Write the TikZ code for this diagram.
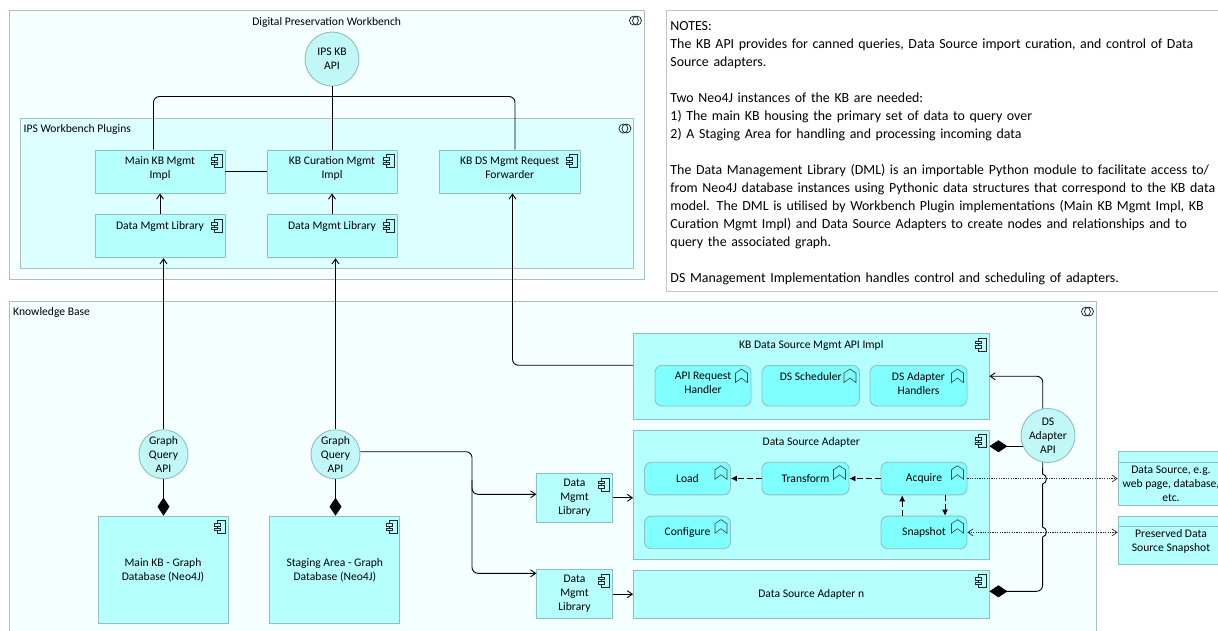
\documentclass[tikz,border=0pt]{standalone}
\usepackage{fontspec}
\setmainfont{Carlito}
\usetikzlibrary{arrows.meta}

\definecolor{groupfill}{HTML}{F5FFFF}
\definecolor{pluginfill}{HTML}{DEFFFF}
\definecolor{compfill}{HTML}{B5FFFF}
\definecolor{funcfill}{HTML}{80FFFF}
\definecolor{apifill}{HTML}{C2F7F7}
\definecolor{edgeline}{HTML}{8FBFBF}
\definecolor{groupline}{HTML}{AEBDBD}
\definecolor{noteline}{HTML}{C4C4C4}

% small marks in the top right corner of a box
\newcommand{\compicon}[1]{
\begin{scope}[shift={(#1.north east)},draw=black!85,line width=0.6pt]
\draw (-11,5) rectangle (-3,18);
\draw[fill=compfill] (-14,8) rectangle (-8,10.5);
\draw[fill=compfill] (-14,12.5) rectangle (-8,15);
\end{scope}}
\newcommand{\funcicon}[1]{
\begin{scope}[shift={(#1.north east)},draw=black!75,line width=0.6pt]
\draw (-16,8) -- (-10,4) -- (-4,8) -- (-4,17.5) -- (-10,13) -- (-16,17.5) -- cycle;
\end{scope}}
\newcommand{\groupicon}[1]{
\begin{scope}[shift={(#1.north east)},draw=black!90,line width=0.7pt]
\draw (-10.5,11) circle[radius=4.5pt];
\draw (-7.5,11) circle[radius=4.5pt];
\end{scope}}

\begin{document}
\begin{tikzpicture}[x=1pt,y=-1pt,font=\fontsize{11.6}{14}\selectfont,>={Straight Barb[length=5pt,width=7pt]}]
\tikzstyle{group box}=[draw=groupline,fill=groupfill,line width=0.9pt,inner sep=0pt]
\tikzstyle{plugin box}=[group box,fill=pluginfill]
\tikzstyle{comp box}=[draw=edgeline,fill=compfill,line width=0.9pt,inner sep=0pt,align=center]
\tikzstyle{impl box}=[comp box,minimum width=130,minimum height=43]
\tikzstyle{lib box}=[comp box,minimum width=75.5,minimum height=49]
\tikzstyle{func box}=[comp box,fill=funcfill,rounded corners=7pt,minimum height=32.6]
\tikzstyle{api}=[circle,draw=edgeline,fill=apifill,line width=0.9pt,inner sep=0pt,align=center]
\tikzstyle{store box}=[comp box,minimum width=106]
\tikzstyle{toplabel}=[anchor=north,align=center,inner sep=7.2pt]
\tikzstyle{link}=[draw=black,line width=0.9pt]
\tikzstyle{assign}=[link,-{Diamond[length=18pt,width=12pt]}]
\tikzstyle{flow}=[link,dash pattern=on 6pt off 3pt,-{Latex[length=6pt,width=6pt]}]
\tikzstyle{access}=[draw=black!85,line width=0.7pt,dash pattern=on 1.2pt off 1.2pt]

\useasboundingbox (0,0) rectangle (1218,630);

% Draw the workbench groups
\node[group box,minimum width=634.7,minimum height=269,label={[toplabel]north:Digital Preservation Workbench}] (Wb) at (326.65,144.5) {};
\node[plugin box,minimum width=613,minimum height=150] (Plugins) at (327,193) {};
\node[anchor=west,inner sep=0pt] (PluginsT) at (23.5,129.5) {IPS Workbench Plugins};
\node[api,minimum size=54] (Api) at (332,59) {IPS KB\\API};

% Draw the plugin components
\node[impl box,label={[toplabel]north:{Main KB Mgmt\\Impl}}] (Main) at (160,171.5) {};
\node[impl box,label={[toplabel]north:{KB Curation Mgmt\\Impl}}] (Cur) at (332,171.5) {};
\node[impl box,minimum width=140.5,label={[toplabel]north:{KB DS Mgmt Request\\Forwarder}}] (Fwd) at (509.75,171.5) {};
\node[impl box,label={[toplabel]north:Data Mgmt Library}] (Lib1) at (160,236.25) {};
\node[impl box,label={[toplabel]north:Data Mgmt Library}] (Lib2) at (332,236.25) {};

% Draw the knowledge base group
\node[group box,minimum width=1086.5,minimum height=331] (KB) at (552.75,466.5) {};
\node[anchor=west,inner sep=0pt] (KBT) at (13,312.5) {Knowledge Base};

% Draw the data source management implementation
\node[comp box,minimum width=355.5,minimum height=85.5,label={[toplabel]north:KB Data Source Mgmt API Impl}] (Impl) at (811.25,376.25) {};
\node[func box,minimum width=96,minimum height=40.5,label={[toplabel]north:{API Request\\Handler}}] (Handler) at (703,385.75) {};
\node[func box,minimum width=97.5,minimum height=40.5,label={[toplabel]north:DS Scheduler}] (Sched) at (810.75,385.75) {};
\node[func box,minimum width=97,minimum height=40.5,label={[toplabel]north:{DS Adapter\\Handlers}}] (Handlers) at (918.5,385.75) {};

% Draw the adapters
\node[comp box,minimum width=355.5,minimum height=129,label={[toplabel]north:Data Source Adapter}] (Adapter) at (811.25,494.5) {};
\node[func box,minimum width=86] (Load) at (687.5,478.5) {Load};
\node[func box,minimum width=87] (Trans) at (805.5,478.5) {Transform};
\node[func box,minimum width=86] (Acq) at (924,478.5) {Acquire};
\node[func box,minimum width=86] (Conf) at (687.5,532.4) {Configure};
\node[func box,minimum width=86] (Snap) at (924,532.4) {Snapshot};
\node[comp box,minimum width=355.5,minimum height=48] (AdapterN) at (811.25,594) {Data Source Adapter n};
\node[lib box] (Dml1) at (574.5,497.8) {Data\\Mgmt\\Library};
\node[lib box] (Dml2) at (574.5,594.2) {Data\\Mgmt\\Library};
\node[api,minimum size=54] (DsApi) at (1048,435.5) {DS\\Adapter\\API};

% Draw the graph databases
\node[api,minimum size=49] (Gq1) at (163.5,454.3) {Graph\\Query\\API};
\node[api,minimum size=49] (Gq2) at (335.5,454.3) {Graph\\Query\\API};
\node[comp box,minimum width=130,minimum height=107.7] (Graph1) at (163,570) {Main KB - Graph\\Database (Neo4J)};
\node[comp box,minimum width=130,minimum height=107.7] (Graph2) at (334.8,570) {Staging Area - Graph\\Database (Neo4J)};

% Draw the external artifacts
\node[store box,minimum height=54,label={[yshift=-5.5pt,align=center]center:{Data Source, e.g.\\web page, database,\\etc.}}] (Src) at (1171,478) {};
\node[store box,minimum height=48,label={[yshift=-0.7pt,align=center]center:{Preserved Data\\Source Snapshot}}] (Keep) at (1171,540.3) {};
\draw[edgeline,line width=0.9pt] ([yshift=-11.7pt]Src.north west) -- ([yshift=-11.7pt]Src.north east);
\draw[edgeline,line width=0.9pt] ([yshift=-10.4pt]Keep.north west) -- ([yshift=-10.4pt]Keep.north east);

% Draw the notes
\node[draw=noteline,line width=0.9pt,fill=white,anchor=north west,inner xsep=4.5pt,inner ysep=7pt,text width=548pt,align=left,font=\fontsize{13.9}{18}\selectfont] (Notes) at (665.5,10) {\rule{0pt}{13pt}NOTES:\\
The KB API provides for canned queries, Data Source import curation, and control of Data\\
Source adapters.\\[18pt]
Two Neo4J instances of the KB are needed:\\
1) The main KB housing the primary set of data to query over\\
2) A Staging Area for handling and processing incoming data\\[18pt]
The Data Management Library (DML) is an importable Python module to facilitate access to/\\
from Neo4J database instances using Pythonic data structures that correspond to the KB data\\
model. The DML is utilised by Workbench Plugin implementations (Main KB Mgmt Impl, KB\\
Curation Mgmt Impl) and Data Source Adapters to create nodes and relationships and to\\
query the associated graph.\\[18pt]
DS Management Implementation handles control and scheduling of adapters.};

% Put the marks in the corners
\foreach \name in {Main,Cur,Fwd,Lib1,Lib2,Impl,Adapter,AdapterN,Dml1,Dml2,Graph1,Graph2}
{\compicon{\name}}
\foreach \name in {Handler,Sched,Handlers,Load,Trans,Acq,Conf,Snap}
{\funcicon{\name}}
\foreach \name in {Wb,Plugins,KB}
{\groupicon{\name}}

% Connect the plugins to the API
\coordinate (ApiBus) at (332,96.5);
\draw[link] (Cur.north) -- (Api.south);
\draw[link,rounded corners=6pt] ([xshift=-6.5pt]Main.north) |- (ApiBus) -| ([xshift=5.25pt]Fwd.north);
\draw[link] (Main.east) -- (Cur.west);
\draw[link,->] (Lib1.north) -- (Main.south);
\draw[link,->] (Lib2.north) -- (Cur.south);

% Connect the graph query APIs
\draw[link,->] (Gq1.north) -- (Gq1.north |- Lib1.south);
\draw[link,->] (Gq2.north) -- (Gq2.north |- Lib2.south);
\draw[assign] (Gq1.south) -- (Gq1.south |- Graph1.north);
\draw[assign] (Gq2.south) -- (Gq2.south |- Graph2.north);

% Connect the staging area API to the libraries
\coordinate (LibBus) at (472,480);
\draw[link,->,rounded corners=6pt] ([yshift=2.6pt]Gq2.east) -| (LibBus) |- ([yshift=20.9pt]Dml2.west);
\draw[link,->,rounded corners=6pt] (LibBus) |- ([yshift=3.5pt]Dml1.west);
\draw[link,->] (Dml1.east) -- (Dml1.east -| Adapter.west);
\draw[link,->] (Dml2.east) -- (Dml2.east -| AdapterN.west);
\draw[link,->,rounded corners=6pt] ([yshift=11pt]Impl.west) -| ([xshift=2.75pt]Fwd.south);

% Connect the adapter API, with hops over the access lines
\def\busx{1042.6}
\coordinate (AdapterBus) at (\busx,537);
\draw[link,->,rounded corners=6pt] (DsApi.101) |- (Impl.east);
\draw[assign] (DsApi.203) -- (DsApi.203 -| Adapter.east);
\draw[link] (DsApi.259) -- (\busx,474) .. controls (\busx+5,475) and (\busx+5,483) .. (\busx,484) -- (\busx,527) .. controls (\busx+5,528) and (\busx+5,536) .. (AdapterBus);
\draw[assign,rounded corners=6pt] (AdapterBus) |- ([yshift=2.7pt]AdapterN.east);

% Connect the functions
\draw[flow] (Acq.west) -- (Trans.east);
\draw[flow] (Trans.west) -- (Load.east);
\draw[flow] ([xshift=-21.8pt]Snap.north) -- ([xshift=-21.8pt]Acq.south);
\draw[flow] ([xshift=21pt]Acq.south) -- ([xshift=21pt]Snap.north);
\draw[access,->] (Acq.east) -- (Acq.east -| Src.west);
\draw[access,<->] (Snap.east) -- (Snap.east -| Keep.west);
\end{tikzpicture}
\end{document}
